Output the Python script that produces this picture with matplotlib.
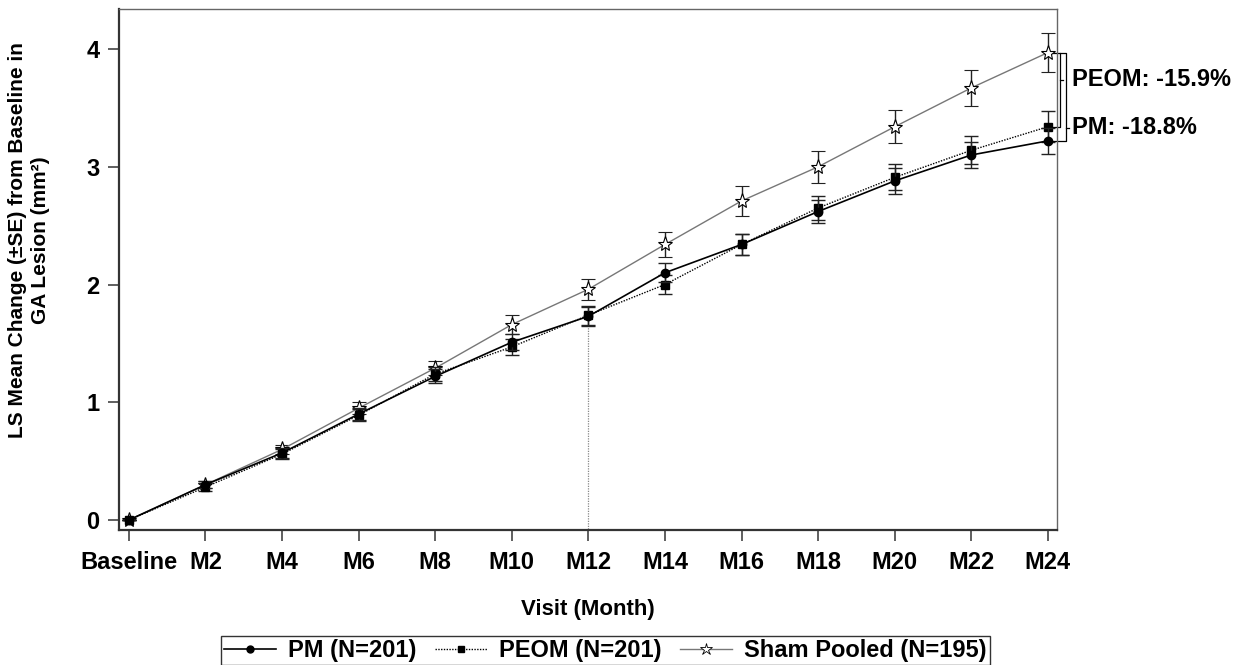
import numpy as np
import matplotlib
matplotlib.use("Agg")
import matplotlib.pyplot as plt
from matplotlib.lines import Line2D

plt.rcParams["font.family"] = ["Liberation Sans", "DejaVu Sans"]
plt.rcParams["font.weight"] = "bold"

# ── data ─────────────────────────────────────────────────────
months = [0, 2, 4, 6, 8, 10, 12, 14, 16, 18, 20, 22, 24]
tick_labels = ["Baseline", "M2", "M4", "M6", "M8", "M10", "M12",
               "M14", "M16", "M18", "M20", "M22", "M24"]

pm_mean = [0.0, 0.30, 0.57, 0.90, 1.22, 1.51, 1.73, 2.10, 2.34, 2.62, 2.88, 3.10, 3.22]
pm_se = [0.0, 0.03, 0.04, 0.05, 0.06, 0.07, 0.08, 0.08, 0.09, 0.10, 0.11, 0.11, 0.11]

peom_mean = [0.0, 0.28, 0.56, 0.89, 1.24, 1.47, 1.74, 2.00, 2.34, 2.65, 2.91, 3.14, 3.34]
peom_se = [0.0, 0.03, 0.04, 0.05, 0.06, 0.07, 0.08, 0.08, 0.09, 0.10, 0.11, 0.12, 0.13]

sham_mean = [0.0, 0.30, 0.60, 0.95, 1.29, 1.66, 1.96, 2.34, 2.71, 3.00, 3.34, 3.67, 3.97]
sham_se = [0.0, 0.03, 0.04, 0.05, 0.06, 0.08, 0.09, 0.11, 0.13, 0.135, 0.14, 0.155, 0.165]

labels = ["PM (N=201)", "PEOM (N=201)", "Sham Pooled (N=195)"]
diff_text = ["PEOM: -15.9%", "PM: -18.8%"]
diff_label_y = [3.74, 3.33]

# ── figure ───────────────────────────────────────────────────
fig = plt.figure(figsize=(12.34, 6.65), dpi=100)
ax = fig.add_axes([0.0964, 0.203, 0.7601, 0.7835])

err_kw = dict(capsize=5, elinewidth=1.0, capthick=1.0)

ax.errorbar(months, sham_mean, yerr=sham_se, color="#777777", lw=1.0,
            marker="*", ms=11, mfc="white", mec="black", mew=0.8,
            ecolor="#222222", zorder=3, **err_kw)
ax.errorbar(months, peom_mean, yerr=peom_se, color="black", lw=1.0, ls=(0, (1, 1)),
            marker="s", ms=6, mfc="black", mec="black",
            ecolor="#222222", zorder=4, **err_kw)
ax.errorbar(months, pm_mean, yerr=pm_se, color="black", lw=1.2,
            marker="o", ms=6, mfc="black", mec="black",
            ecolor="#222222", zorder=5, **err_kw)

# dotted reference line at M12
ax.vlines(months[6], -0.2, pm_mean[6], colors="#888888", linestyles=(0, (1, 1)),
          lw=0.9, zorder=1)

ax.set_xlim(-0.26, 24.235)
ax.set_ylim(-0.085, 4.34)
ax.set_xticks(months)
ax.set_xticklabels(tick_labels)
ax.set_yticks([0, 1, 2, 3, 4])
ax.tick_params(axis="both", direction="out", length=8, width=1.2,
               color="#444444", labelsize=17)
ax.tick_params(axis="x", pad=7)
ax.tick_params(axis="y", pad=6)
for t in ax.get_xticklabels() + ax.get_yticklabels():
    t.set_fontweight("bold")

for side in ["left", "bottom"]:
    ax.spines[side].set_linewidth(1.6)
    ax.spines[side].set_color("#333333")
for side in ["top", "right"]:
    ax.spines[side].set_linewidth(1.0)
    ax.spines[side].set_color("#666666")

ax.set_xlabel("Visit (Month)", fontsize=16, fontweight="bold", labelpad=18)
ax.set_ylabel("LS Mean Change (±SE) from Baseline in\nGA Lesion (mm²)",
              fontsize=15, fontweight="bold", linespacing=1.25)
ax.yaxis.set_label_coords(-0.074, 0.557)

# ── brackets for % difference at M24 ─────────────────────────
x_end = months[-1]
top = sham_mean[-1]
br_kw = dict(color="black", lw=0.9, clip_on=False)
ax.plot([x_end + 0.13, x_end + 0.31, x_end + 0.31, x_end + 0.03],
        [top, top, peom_mean[-1], peom_mean[-1]], **br_kw)
ax.plot([x_end + 0.31, x_end + 0.47, x_end + 0.47, x_end + 0.08],
        [top, top, pm_mean[-1], pm_mean[-1]], **br_kw)
ax.plot([x_end + 0.31, x_end + 0.39], [diff_label_y[0]] * 2, **br_kw)
ax.plot([x_end + 0.47, x_end + 0.54], [diff_label_y[1]] * 2, **br_kw)
ax.text(x_end + 0.62, diff_label_y[0], diff_text[0], fontsize=17,
        fontweight="bold", va="center", ha="left")
ax.text(x_end + 0.62, diff_label_y[1], diff_text[1], fontsize=17,
        fontweight="bold", va="center", ha="left")

# ── legend ───────────────────────────────────────────────────
handles = [
    Line2D([], [], color="black", lw=1.2, marker="o", ms=5, mfc="black"),
    Line2D([], [], color="black", lw=1.0, ls=(0, (1, 1)), marker="s", ms=5, mfc="black"),
    Line2D([], [], color="#777777", lw=1.0, marker="*", ms=9, mfc="white",
           mec="black", mew=0.6),
]
leg = fig.legend(handles, labels,
                 loc="upper center", bbox_to_anchor=(0.4907, 0.0436), ncol=3,
                 fontsize=17, frameon=True, fancybox=False, handlelength=2.2,
                 columnspacing=0.8, borderpad=0.12, handletextpad=0.5,
                 borderaxespad=0.0)
leg.get_frame().set_edgecolor("black")
leg.get_frame().set_linewidth(1.0)
for t in leg.get_texts():
    t.set_fontweight("bold")

fig.savefig("out.png", dpi=100)
